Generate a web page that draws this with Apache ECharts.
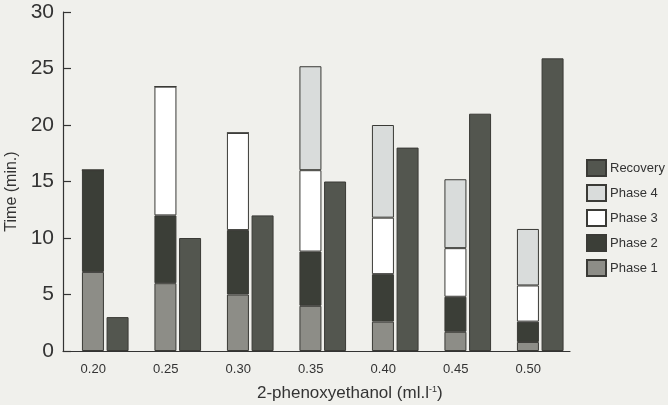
<!DOCTYPE html>
<html>
<head>
<meta charset="utf-8">
<script src="https://cdn.jsdelivr.net/npm/echarts@6/dist/echarts.min.js"></script>
<style>html,body{margin:0;padding:0;background:#f0f0ec;}#c{width:668px;height:405px;}</style>
</head>
<body>
<div id="c"></div>
<script>
const categories = ['0.20', '0.25', '0.30', '0.35', '0.40', '0.45', '0.50'];
const phase1 = [7, 6, 5, 4, 2.6, 1.7, 0.8];
const phase2 = [9, 6, 5.7, 4.8, 4.2, 3.1, 1.8];
const phase3 = [0, 11.4, 8.6, 7.2, 5.0, 4.3, 3.2];
const phase4 = [0, 0, 0, 9.2, 8.2, 6.1, 5.0];
const recovery = [3, 10, 12, 15, 18, 21, 25.9];

const font = 'Liberation Sans, Arial, sans-serif';
const border = {borderColor: '#3a3a36', borderWidth: 1};

const chart = echarts.init(document.getElementById('c'));
chart.setOption({
  backgroundColor: '#f0f0ec',
  animation: false,
  grid: [
    {left: 69, right: 91.5, top: 12, bottom: 54, containLabel: false, outerBoundsMode: 'none'},
    {left: 63, right: 98, top: 12, bottom: 54, containLabel: false, outerBoundsMode: 'none'}
  ],
  legend: {
    orient: 'vertical', left: 581, top: 154,
    icon: 'rect',
    itemWidth: 19, itemHeight: 16, itemGap: 7,
    textStyle: {fontFamily: font, fontSize: 13, color: '#333', padding: [0, 0, 0, -1]},
    data: ['Recovery', 'Phase 4', 'Phase 3', 'Phase 2', 'Phase 1']
  },
  xAxis: [
    {
      gridIndex: 0, type: 'category', data: categories,
      name: '2-phenoxyethanol (ml.l{sup|-1})',
      nameLocation: 'middle', nameGap: 34,
      nameTextStyle: {fontFamily: font, fontSize: 17, color: '#333', padding: [0, 0, 0, 54],
        rich: {sup: {fontFamily: font, fontSize: 9, color: '#333', verticalAlign: 'top', padding: [0, 0, 8, 0]}}},
      axisLine: {show: false},
      axisTick: {show: false},
      axisLabel: {fontFamily: font, fontSize: 13, color: '#333', margin: 12, padding: [0, 24, 0, 0]}
    },
    {
      gridIndex: 1, type: 'value', min: 0, max: 1,
      axisLine: {show: true, lineStyle: {color: '#333', width: 1.2}},
      axisTick: {show: false}, axisLabel: {show: false}, splitLine: {show: false}
    }
  ],
  yAxis: [
    {
      gridIndex: 0, type: 'value', min: 0, max: 30, interval: 5, offset: 6,
      name: 'Time (min.)', nameLocation: 'middle', nameGap: 38,
      nameTextStyle: {fontFamily: font, fontSize: 16, color: '#333', padding: [0, 20, 0, 0]},
      splitLine: {show: false},
      axisLine: {show: true, lineStyle: {color: '#333', width: 1.2}},
      axisTick: {show: true, inside: true, length: 8, lineStyle: {color: '#333', width: 1.2}},
      axisLabel: {fontFamily: font, fontSize: 21, color: '#333', margin: 9}
    },
    {
      gridIndex: 1, type: 'value', min: 0, max: 1, show: false
    }
  ],
  series: [
    {name: 'Phase 1', type: 'bar', stack: 'p', barWidth: 22, barGap: '12%', data: phase1, itemStyle: Object.assign({color: '#8d8d87'}, border)},
    {name: 'Phase 2', type: 'bar', stack: 'p', barWidth: 22, data: phase2, itemStyle: Object.assign({color: '#3b3e37'}, border)},
    {name: 'Phase 3', type: 'bar', stack: 'p', barWidth: 22, data: phase3, itemStyle: Object.assign({color: '#ffffff'}, border)},
    {name: 'Phase 4', type: 'bar', stack: 'p', barWidth: 22, data: phase4, itemStyle: Object.assign({color: '#d9dcdb'}, border)},
    {name: 'Recovery', type: 'bar', stack: 'r', barWidth: 22, barGap: '12%', data: recovery, itemStyle: Object.assign({color: '#53564f'}, border)}
  ]
});
</script>
</body>
</html>
